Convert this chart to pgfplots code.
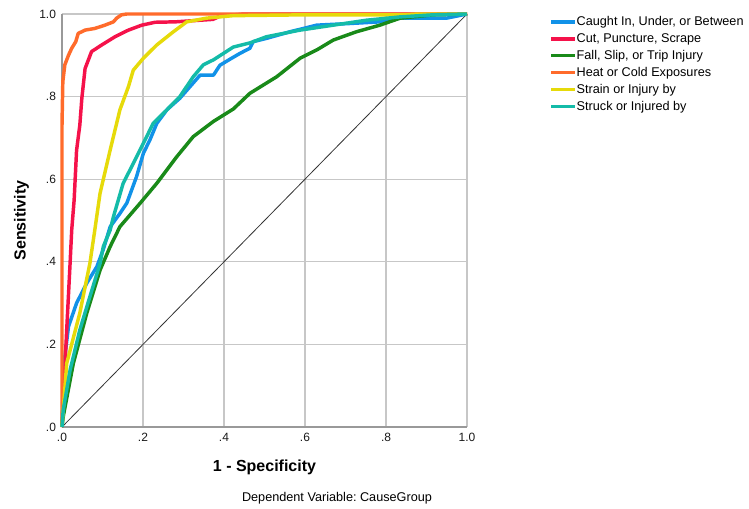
\documentclass[border=0pt]{standalone}
\usepackage{pgfplots}
\pgfplotsset{compat=1.18}
\usepackage{fontspec}
\setmainfont{Liberation Sans}

\definecolor{cblue}{HTML}{1192E8}
\definecolor{cred}{HTML}{F5124A}
\definecolor{cgreen}{HTML}{198A19}
\definecolor{corange}{HTML}{FF6B2B}
\definecolor{cyellow}{HTML}{E6DA0A}
\definecolor{cteal}{HTML}{14BBA8}

\begin{document}
\begin{tikzpicture}
\useasboundingbox (-46.5pt,-60.75pt) rectangle (515.25pt,320.25pt);
\begin{axis}[
  at={(0,0)}, anchor=south west,
  scale only axis,
  width=303.75pt, height=309.75pt,
  xmin=0, xmax=1, ymin=0, ymax=1,
  axis x line*=bottom, axis y line*=left,
  xtick={0,0.2,...,1}, ytick={0,0.2,...,1},
  xticklabels={.0,.2,.4,.6,.8,1.0},
  yticklabels={.0,.2,.4,.6,.8,1.0},
  tick label style={font=\fontsize{9}{10}\selectfont, text=black!90},
  major tick length=0pt,
  xticklabel style={yshift=-1pt},
  yticklabel style={xshift=-1pt},
  grid=major,
  grid style={draw=black!22, line width=0.8pt},
  axis line style={draw=black!40, line width=0.8pt, -},
  xlabel={\textbf{1 - Specificity}},
  ylabel={\textbf{Sensitivity}},
  label style={font=\fontsize{12}{14}\selectfont},
  xlabel style={at={(axis description cs:0.5,-0.097)}, anchor=center},
  ylabel style={at={(axis description cs:-0.1,0.5)}, anchor=center, rotate=0},
  legend cell align=left,
  legend style={at={(axis description cs:1.203,0.995)}, anchor=north west,
    draw=none, fill=none, inner sep=0pt,
    font=\fontsize{9.5}{11}\selectfont,
    nodes={inner sep=0pt, text height=7pt, text depth=2.5pt},
    row sep=3.2pt},
  legend image code/.code={\draw[#1, line width=2.4pt] (0pt,0.5pt) -- (18pt,0.5pt);},
  /tikz/every even column/.append style={column sep=4pt},
  every axis plot/.append style={line width=2.6pt, line join=round},
  clip=false,
]
\addplot[black!80, line width=0.6pt, forget plot] coordinates {(0,0) (1,1)};

\addplot[cblue] coordinates {
(0,0) (0.003,0.10) (0.007,0.17) (0.016,0.243) (0.036,0.30) (0.061,0.348)
(0.086,0.388) (0.102,0.43) (0.119,0.485) (0.143,0.517) (0.16,0.542)
(0.184,0.606) (0.201,0.663) (0.217,0.695) (0.234,0.735) (0.259,0.768)
(0.291,0.796) (0.316,0.824) (0.341,0.852) (0.374,0.852) (0.39,0.876)
(0.419,0.893) (0.44,0.905) (0.464,0.917) (0.472,0.933) (0.505,0.941)
(0.563,0.957) (0.629,0.973) (0.711,0.977) (0.785,0.981) (0.835,0.99)
(0.95,0.99) (1,1)};
\addlegendentry{Caught In, Under, or Between}

\addplot[cred] coordinates {
(0,0) (0.005,0.10) (0.0116,0.235) (0.02,0.397) (0.024,0.477) (0.03,0.55)
(0.036,0.67) (0.044,0.731) (0.049,0.796) (0.057,0.868) (0.073,0.909)
(0.098,0.925) (0.131,0.945) (0.164,0.961) (0.197,0.973) (0.23,0.98)
(0.28,0.981) (0.373,0.987) (0.39,0.995) (0.45,1) (1,1)};
\addlegendentry{Cut, Puncture, Scrape}

\addplot[cgreen] coordinates {
(0,0) (0.003,0.025) (0.028,0.154) (0.061,0.275) (0.094,0.38) (0.119,0.437)
(0.143,0.485) (0.193,0.542) (0.234,0.59) (0.283,0.654) (0.324,0.703)
(0.374,0.74) (0.423,0.77) (0.464,0.808) (0.53,0.848) (0.588,0.893)
(0.629,0.913) (0.67,0.937) (0.727,0.957) (0.785,0.973) (0.835,0.99)
(0.916,0.998) (1,1)};
\addlegendentry{Fall, Slip, or Trip Injury}

\addplot[corange] coordinates {
(0,0) (0,0.73) (0.002,0.836) (0.007,0.877) (0.016,0.90) (0.024,0.917)
(0.034,0.933) (0.04,0.953) (0.057,0.961) (0.081,0.965) (0.106,0.973)
(0.127,0.981) (0.135,0.99) (0.147,0.998) (0.16,1) (1,1)};
\addlegendentry{Heat or Cold Exposures}

\addplot[cyellow] coordinates {
(0,0) (0.0116,0.154) (0.044,0.276) (0.069,0.397) (0.081,0.477) (0.094,0.566)
(0.119,0.671) (0.143,0.768) (0.164,0.824) (0.176,0.864) (0.201,0.893)
(0.234,0.925) (0.275,0.957) (0.308,0.981) (0.357,0.99) (0.423,0.996)
(0.6,0.998) (0.85,0.998) (0.88,1) (1,1)};
\addlegendentry{Strain or Injury by}

\addplot[cteal] coordinates {
(0,0) (0.003,0.041) (0.02,0.138) (0.044,0.235) (0.069,0.316) (0.094,0.396)
(0.102,0.437) (0.119,0.477) (0.127,0.509) (0.151,0.59) (0.176,0.638)
(0.201,0.687) (0.225,0.735) (0.259,0.768) (0.291,0.80) (0.324,0.848)
(0.349,0.877) (0.374,0.889) (0.423,0.92) (0.464,0.930) (0.505,0.945)
(0.588,0.961) (0.67,0.973) (0.752,0.985) (0.835,0.993) (0.916,0.998) (1,1)};
\addlegendentry{Struck or Injured by}

\node[font=\fontsize{9.5}{11}\selectfont, anchor=center]
  at (axis description cs:0.679,-0.172) {Dependent Variable:\ CauseGroup};
\end{axis}
\end{tikzpicture}
\end{document}
